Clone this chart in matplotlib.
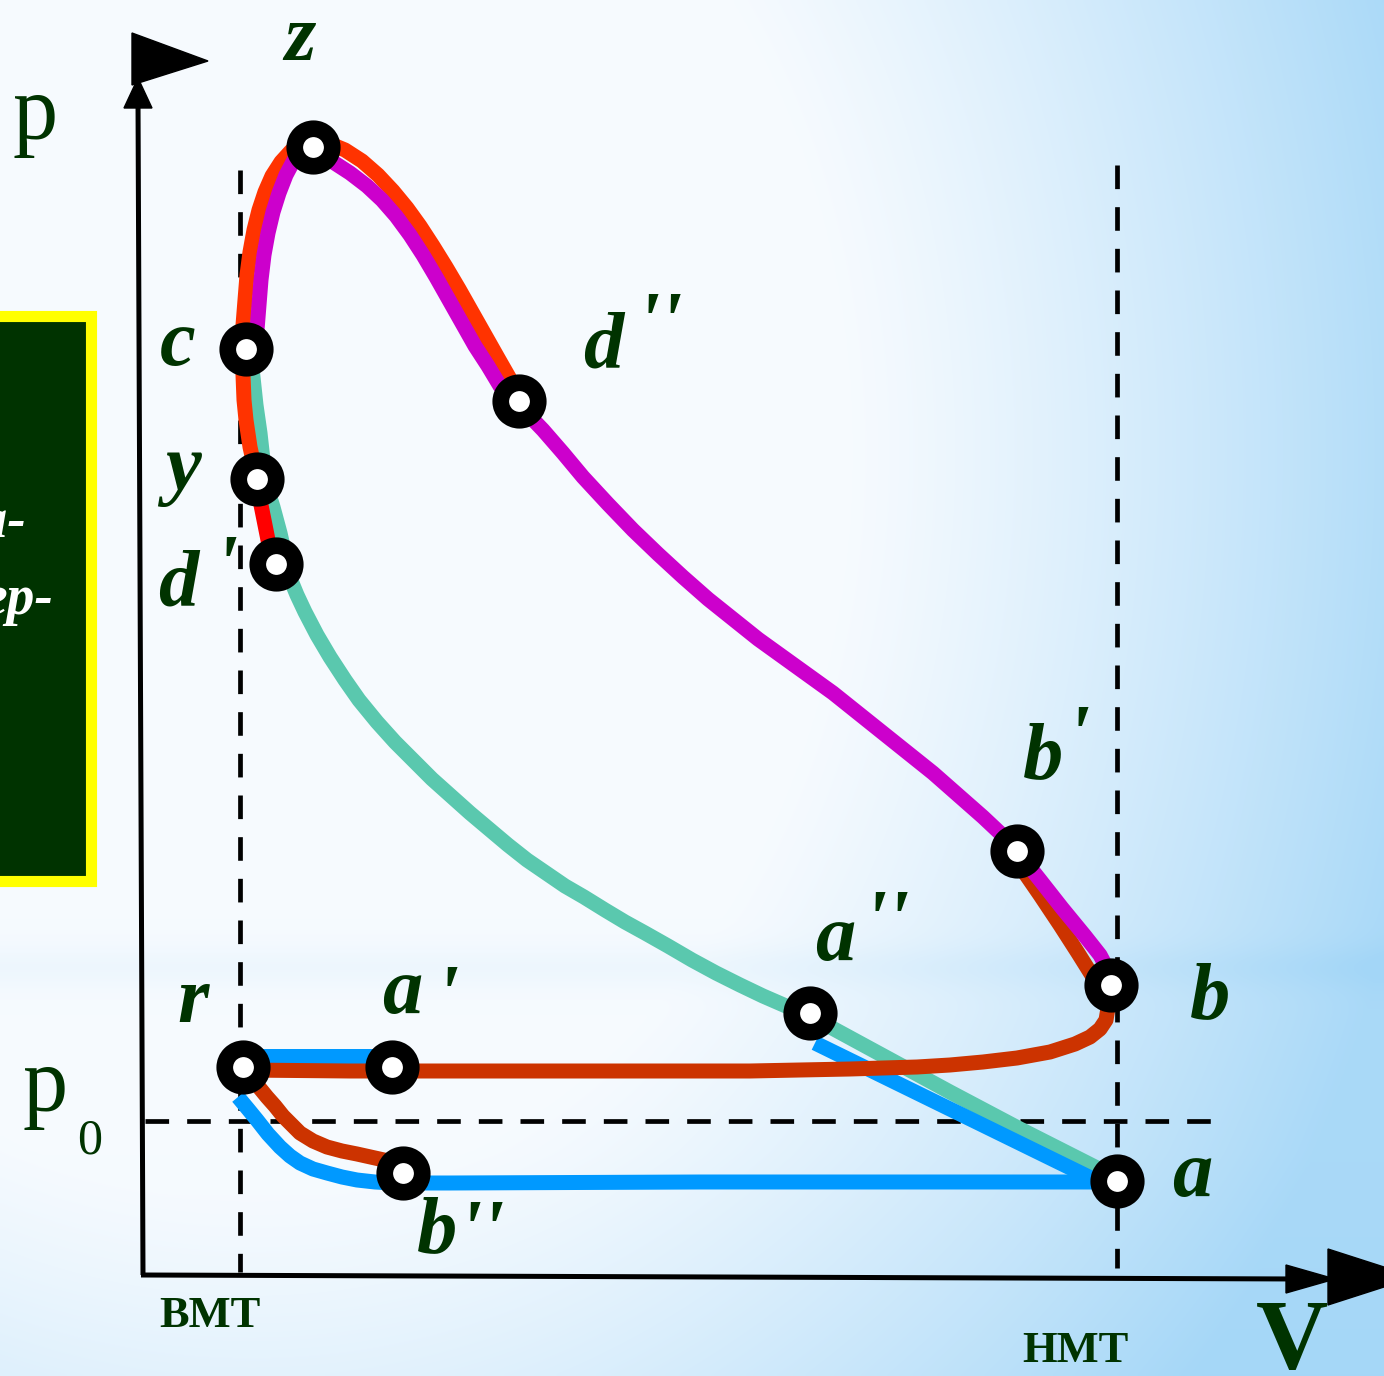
import matplotlib
matplotlib.use("Agg")
import matplotlib.pyplot as plt
import numpy as np
from matplotlib.patches import Rectangle, Polygon

# points of the indicator diagram (V, p) read in picture units
pt_name = ["z", "c", "y", "d1", "d2", "b1", "b", "a2", "a", "r", "a1", "b2"]
pt_V = [313, 246, 257, 276, 519, 1017, 1111, 810, 1117, 243, 392, 403]
pt_p = [147, 349, 479, 564, 401, 851, 985, 1013, 1181, 1067, 1067, 1173]

# combustion (outer, orange-red): y -> c -> z -> d''
comb_V = [257, 250, 246, 244, 243, 243, 243, 245, 247, 250, 254, 259, 265, 272, 281, 291, 302, 313,
          328, 345, 362, 378, 393, 407, 420, 433, 446, 459, 472, 485, 498, 510, 519]
comb_p = [479, 447, 420, 400, 375, 349, 325, 300, 275, 252, 230, 210, 192, 176, 162, 151, 143, 139,
          143, 150, 161, 175, 191, 208, 226, 246, 267, 289, 312, 335, 358, 379, 393]

# expansion (magenta): c -> z -> d'' -> b' -> b
exp_V = [255, 257, 259, 261, 264, 268, 273, 279, 286, 294, 303, 313,
         333, 350, 367, 382, 396, 410, 423, 436, 449, 462, 475, 488, 500, 519,
         543, 563, 583, 608, 633, 658, 683, 708, 733, 758, 783, 808, 833, 858, 883, 908, 933,
         958, 983, 1000, 1017, 1040, 1062, 1085, 1100, 1108]
exp_p = [349, 330, 305, 280, 255, 233, 212, 193, 175, 160, 150, 147,
         162, 173, 186, 200, 216, 235, 255, 277, 300, 323, 346, 366, 386, 405,
         430, 453, 477, 504, 530, 554, 577, 599, 619, 639, 657, 675, 693, 713, 733, 753, 773,
         795, 817, 833, 851, 880, 908, 936, 955, 970]

# exhaust (dark red): b' -> b -> r -> b''
exh_V = [1020, 1040, 1060, 1078, 1093, 1103, 1108, 1106, 1100, 1090, 1075, 1050, 1017, 983, 950,
         917, 883, 850, 800, 750, 650, 550, 450, 350, 243,
         250, 258, 267, 275, 283, 292, 300, 313, 327, 342, 357, 375, 393, 403]
exh_p = [866, 895, 925, 953, 977, 994, 1008, 1020, 1029, 1037, 1044, 1052, 1058, 1062, 1065,
         1067, 1068, 1069, 1070, 1071, 1071, 1071, 1071, 1071, 1070,
         1075, 1086, 1097, 1106, 1116, 1125, 1133, 1141, 1147, 1151, 1154, 1158, 1162, 1166]

# compression (teal): c -> y -> d' -> a'' -> a
comp_V = [250, 253, 256, 260, 263, 266, 273, 280, 285, 290, 297, 305, 317, 330, 345, 359, 377,
          395, 413, 432, 451, 470, 489, 508, 527, 546, 565, 584, 605, 625, 645, 668, 692, 716,
          740, 763, 786, 810, 880, 950, 1020, 1097]
comp_p = [349, 377, 405, 433, 460, 485, 507, 533, 555, 578, 595, 612, 635, 657, 680, 700, 722,
          742, 760, 779, 796, 813, 829, 845, 860, 873, 886, 897, 910, 922, 933, 946, 960, 973,
          985, 996, 1006, 1016, 1054, 1092, 1129, 1168]

# intake (blue)
intake_top_V = [243, 392]
intake_top_p = [1056, 1056]
intake_low_V = [238, 248, 257, 268, 280, 290, 300, 313, 327, 342, 357, 375, 393, 450, 700, 950, 1100]
intake_low_p = [1097, 1109, 1120, 1134, 1147, 1156, 1163, 1169, 1173, 1177, 1180, 1182, 1183, 1183, 1182, 1182, 1182]
intake_diag_V = [815, 1095]
intake_diag_p = [1043, 1180]

# bright red piece y -> d'
yd_V = [257, 260, 264, 268, 272, 276]
yd_p = [479, 500, 520, 540, 553, 564]

bmt_V = 240
hmt_V = 1117
p0_p = 1121

W, H = 1384, 1376
fig = plt.figure(figsize=(W / 100, H / 100), dpi=100)
ax = fig.add_axes([0, 0, 1, 1])
ax.set_xlim(0, W)
ax.set_ylim(H, 0)
ax.axis("off")

# background gradient
xx, yy = np.meshgrid(np.arange(0, W, 4), np.arange(0, H, 4))
d = np.sqrt(((xx - 250) / 1200.0) ** 2 + ((yy - 450) / 1500.0) ** 2)
f = 0.92 * np.clip((d - 0.5) / 0.5, 0, 1) ** 1.15
f = f + 0.10 * np.exp(-((yy - 965) / 22.0) ** 2) + 0.06 * np.clip((yy - 1150) / 230.0, 0, 1)
f = np.clip(f, 0, 1)
white = np.array([0.965, 0.982, 0.998])
blue = np.array([0.64, 0.84, 0.97])
img = white[None, None, :] * (1 - f[..., None]) + blue[None, None, :] * f[..., None]
ax.imshow(img, extent=[0, W, H, 0], aspect="auto", zorder=0, interpolation="bilinear")

# left box (mostly off-canvas)
ax.add_patch(Rectangle((-30, 316), 121, 565, facecolor="#003300", edgecolor="#FFFF00", lw=8, zorder=1))
ax.text(27, 537, "ла-", color="white", fontsize=40, fontweight="bold", fontstyle="italic",
        family="Liberation Serif", ha="right", va="baseline", zorder=2)
ax.text(54, 614, "ер-", color="white", fontsize=40, fontweight="bold", fontstyle="italic",
        family="Liberation Serif", ha="right", va="baseline", zorder=2)

plt.rcParams["lines.scale_dashes"] = False
dash = (17, 13)
ax.plot([bmt_V, bmt_V], [170, 1272], color="black", lw=3.4, dashes=dash, zorder=2)
ax.plot([hmt_V, hmt_V], [165, 1268], color="black", lw=3.4, dashes=dash, zorder=2)
ax.plot([145, 1215], [p0_p, p0_p], color="black", lw=3.4, dashes=dash, zorder=2)

# axes with arrows
ax.plot([143, 138], [1275, 100], color="black", lw=3.6, zorder=3, solid_capstyle="butt")
ax.plot([141, 1300], [1275, 1279], color="black", lw=3.6, zorder=3, solid_capstyle="butt")
ax.add_patch(Polygon([(124, 108), (152, 108), (138, 78)], closed=True, color="black", zorder=3))
ax.add_patch(Polygon([(132, 33), (208, 61), (132, 85)], closed=True, color="black", zorder=3))
ax.add_patch(Polygon([(1286, 1265), (1286, 1293), (1335, 1279)], closed=True, color="black", zorder=3))
ax.add_patch(Polygon([(1328, 1249), (1415, 1277), (1328, 1305)], closed=True, color="black", zorder=3))

lw = 10.8
kw = dict(lw=lw, solid_joinstyle="round", solid_capstyle="butt", zorder=4)
ax.plot(comp_V, comp_p, color="#5AC8AE", **kw)
ax.plot(intake_diag_V, intake_diag_p, color="#0099FF", **kw)
ax.plot(intake_low_V, intake_low_p, color="#0099FF", **kw)
ax.plot(intake_top_V, intake_top_p, color="#0099FF", **kw)
ax.plot(exh_V, exh_p, color="#CC3300", **kw)
ax.plot(comb_V, comb_p, color="#FF3300", **kw)
ax.plot(exp_V, exp_p, color="#CC00CC", **kw)
ax.plot(yd_V, yd_p, color="#FF0000", **kw)

ax.plot(pt_V, pt_p, "o", ms=27, mfc="white", mec="black", mew=12, ls="none", zorder=6)

# labels
green = "#003300"
lab = dict(color=green, family="Liberation Serif", fontweight="bold", fontstyle="italic",
           ha="center", va="baseline", zorder=7)
size = 58
psize = 60
letters = [("z", 300, 60), ("c", 178, 365), ("y", 183, 490), ("d", 178, 605), ("d", 603, 368),
           ("b", 1043, 778), ("a", 835, 960), ("b", 1210, 1018), ("r", 193, 1022),
           ("a", 402, 1013), ("a", 1192, 1196), ("b", 437, 1252)]
for s, x, y in letters:
    ax.text(x, y, s, fontsize=size, **lab)
primes = [("'", 226, 591), ("''", 660, 348), ("'", 1078, 761), ("''", 887, 946),
          ("'", 447, 1021), ("''", 482, 1256)]
for s, x, y in primes:
    ax.text(x, y, s, fontsize=psize, **lab)

reg = dict(color=green, family="Liberation Serif", ha="center", va="baseline", zorder=7)
ax.text(35, 139, "p", fontsize=65, **reg)
ax.text(45, 1111, "p", fontsize=65, **reg)
ax.text(90, 1153, "0", fontsize=36, **reg)
ax.text(210, 1327, "BMT", fontsize=32, fontweight="bold", **reg)
ax.text(1075, 1362, "HMT", fontsize=32, fontweight="bold", **reg)
ax.text(1292, 1368, "V", fontsize=72, fontweight="bold", **reg)

fig.savefig("out.png", dpi=100)
